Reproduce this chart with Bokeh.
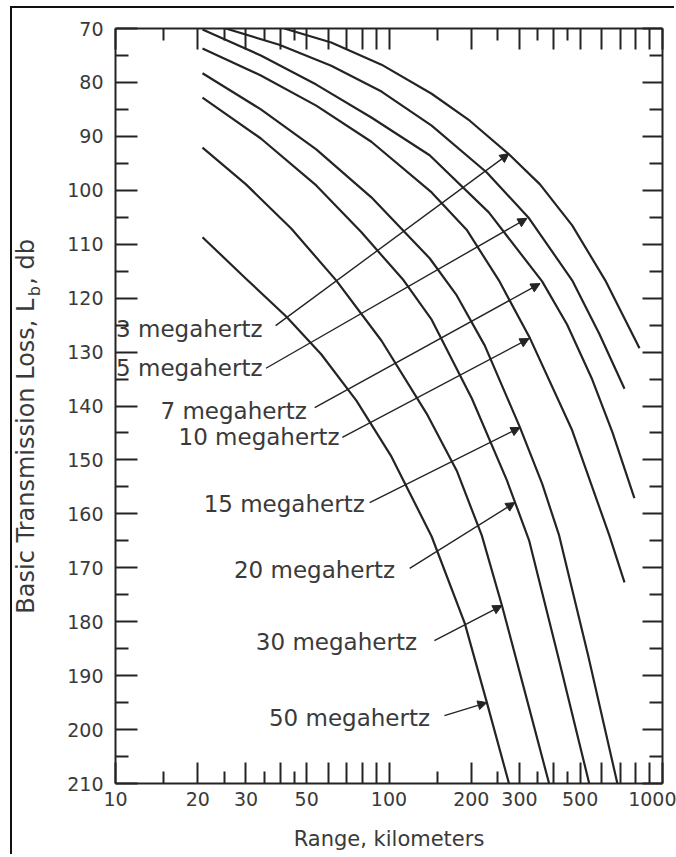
import math
from bokeh.plotting import figure
from bokeh.layouts import row
from bokeh.models import (FixedTicker, LogAxis, LinearAxis, Arrow, NormalHead,
                          ColumnDataSource)
from bokeh.core.properties import value
from bokeh.embed import file_html
from bokeh.resources import INLINE

# ---------------- data ----------------
# range in km, basic transmission loss in dB
c3_km = [41.4, 61.5, 93.9, 143.2, 197.4, 276.9, 356.5, 467.4, 617.6, 823.9]
c3_db = [70.0, 72.6, 76.7, 82.1, 87.1, 93.5, 98.9, 106.5, 116.7, 129.3]

c5_km = [25.3, 39.7, 61.5, 93.9, 143.2, 227.8, 325.2, 467.4, 587.2, 726.1]
c5_db = [70.0, 73.0, 76.9, 81.7, 88.0, 96.7, 105.2, 116.7, 126.6, 136.8]

c7_km = [20.8, 34.0, 54.2, 86.2, 140.8, 231.7, 363.0, 447.8, 553.5, 656.2, 789.2]
c7_db = [70.2, 75.0, 80.4, 86.5, 93.5, 104.1, 116.9, 124.9, 135.1, 144.9, 157.1]

c10_km = [20.8, 34.0, 54.2, 86.2, 143.2, 192.2, 252.2, 328.1, 467.4, 639.1, 726.1]
c10_db = [73.7, 78.7, 84.3, 91.0, 100.4, 107.3, 116.7, 127.5, 144.5, 164.0, 172.7]

c15_km = [20.8, 34.0, 54.2, 86.2, 140.8, 176.9, 224.0, 301.4, 363.0, 418.8, 535.0, 684.0]
c15_db = [78.3, 85.0, 92.4, 101.3, 112.6, 119.5, 128.8, 144.0, 154.4, 164.0, 186.3, 210.0]

c20_km = [20.8, 34.0, 54.2, 79.3, 113.1, 143.2, 200.9, 269.9, 325.2, 418.8, 539.6]
c20_db = [82.8, 90.4, 99.1, 107.8, 116.7, 124.0, 138.6, 153.8, 164.9, 187.2, 210.0]

c30_km = [20.8, 30.0, 43.9, 64.1, 93.9, 137.3, 176.9, 218.4, 258.8, 314.3, 384.9]
c30_db = [92.1, 98.9, 107.1, 116.7, 127.9, 141.4, 152.0, 164.0, 177.0, 193.1, 210.0]

c50_km = [20.8, 30.0, 42.1, 56.5, 76.0, 102.1, 143.2, 189.3, 228.0, 274.6]
c50_db = [108.7, 116.4, 123.4, 130.4, 139.0, 149.4, 164.2, 180.3, 195.0, 210.0]

curves_km = [c3_km, c5_km, c7_km, c10_km, c15_km, c20_km, c30_km, c50_km]
curves_db = [c3_db, c5_db, c7_db, c10_db, c15_db, c20_db, c30_db, c50_db]

labels = ["3 megahertz", "5 megahertz", "7 megahertz", "10 megahertz",
          "15 megahertz", "20 megahertz", "30 megahertz", "50 megahertz"]
label_km = [10.05, 10.05, 14.6, 17.0, 21.0, 27.1, 32.6, 36.4]
label_db = [125.8, 133.0, 141.0, 145.8, 158.1, 170.5, 183.7, 197.8]

arrow_km0 = [38.5, 35.5, 53.5, 67.5, 85.0, 119.0, 146.5, 159.5]
arrow_db0 = [125.1, 133.0, 140.3, 145.8, 157.9, 170.1, 183.5, 197.4]
arrow_km1 = [274.6, 319.6, 356.5, 325.2, 301.4, 288.8, 258.8, 228.0]
arrow_db1 = [93.2, 105.2, 117.3, 127.5, 144.0, 157.9, 177.0, 195.0]

x_long_ticks = [10, 20, 30, 40, 50, 60, 70, 80, 90, 100, 200, 300, 400, 500,
                600, 700, 800, 900, 1000]
x_short_ticks = [15, 25, 35, 45, 150, 250, 350, 450]
x_tick_labels = [10, 20, 30, 50, 100, 200, 300, 500, 1000]
y_long_ticks = list(range(70, 211, 10))
y_short_ticks = list(range(75, 210, 10))

y_title_parts = ["Basic Transmission Loss, L", "b", ", db"]

# ---------------- styling ----------------
FONT = "DejaVu Sans"
INK = "#242424"
TEXT = "#3a3a3a"
TOP, BOTTOM, FRAME_H = 20, 73, 755

# narrow companion figure that carries the rotated y-axis title
tf = figure(width=40, height=TOP + FRAME_H + BOTTOM, x_range=(0, 40), y_range=(210, 70),
            min_border_left=0, min_border_right=0, min_border_top=TOP,
            min_border_bottom=BOTTOM, x_axis_location=None, y_axis_location=None,
            output_backend="svg", toolbar_location=None,
            background_fill_color="white", border_fill_color="white")
tf.outline_line_color = None
tf.grid.visible = False
tsrc = ColumnDataSource(dict(x=[13, 21.5, 13], y=[178.5, 118.7, 117.5],
                             t=y_title_parts, size=["24px", "16px", "24px"],
                             align=["left", "center", "left"]))
tf.text(x="x", y="y", text="t", source=tsrc, angle=math.pi / 2,
        text_font=value(FONT), text_font_size="size", text_align="align",
        text_baseline="middle", text_color=TEXT)

p = figure(x_axis_type="log", x_range=(10, 1000), y_range=(210, 70),
           y_axis_location="right",
           frame_width=547, frame_height=FRAME_H,
           min_border_left=63, min_border_right=14, min_border_top=TOP,
           min_border_bottom=BOTTOM,
           output_backend="svg", toolbar_location=None,
           background_fill_color="white", border_fill_color="white")
p.outline_line_color = None
p.grid.visible = False


def style_axis(ax, tick_long, tick_short):
    ax.axis_line_width = 2
    ax.axis_line_color = INK
    ax.major_tick_line_width = 2
    ax.minor_tick_line_width = 2
    ax.major_tick_line_color = INK
    ax.minor_tick_line_color = INK
    ax.major_tick_in = tick_long
    ax.major_tick_out = 0
    ax.minor_tick_in = tick_short
    ax.minor_tick_out = 0
    ax.major_label_text_font = FONT
    ax.major_label_text_color = TEXT


bx = p.xaxis[0]
bx.ticker = FixedTicker(ticks=x_long_ticks, minor_ticks=x_short_ticks)
style_axis(bx, 21, 12)
bx.major_label_overrides = {t: (str(t) if t in x_tick_labels else "") for t in x_long_ticks}
bx.major_label_text_font_size = "19px"
bx.major_label_standoff = 8
bx.axis_label = "Range, kilometers"
bx.axis_label_text_font = FONT
bx.axis_label_text_font_size = "21px"
bx.axis_label_text_font_style = "normal"
bx.axis_label_text_color = TEXT
bx.axis_label_standoff = 18

# right-hand axis (the figure's own y axis): ticks only
ry = p.yaxis[0]
ry.ticker = FixedTicker(ticks=y_long_ticks, minor_ticks=y_short_ticks)
style_axis(ry, 20, 13)
ry.major_label_overrides = {t: "" for t in y_long_ticks}
ry.major_label_text_font_size = "1px"
ry.major_label_standoff = 0

# left-hand axis with the dB labels
ly = LinearAxis(ticker=FixedTicker(ticks=y_long_ticks, minor_ticks=y_short_ticks))
style_axis(ly, 22, 13)
ly.major_label_text_font_size = "19px"
ly.major_label_standoff = 12
p.add_layout(ly, "left")

tx = LogAxis(ticker=FixedTicker(ticks=x_long_ticks, minor_ticks=x_short_ticks))
style_axis(tx, 21, 12)
tx.major_label_overrides = {t: "" for t in x_long_ticks}
tx.major_label_text_font_size = "1px"
tx.major_label_standoff = 0
p.add_layout(tx, "above")

# curves
for km, db in zip(curves_km, curves_db):
    p.line(km, db, line_width=2.2, line_color=INK, line_join="round")

# frequency labels
lsrc = ColumnDataSource(dict(x=label_km, y=label_db, t=labels))
p.text(x="x", y="y", text="t", source=lsrc, text_font=value(FONT),
       text_font_size=value("23px"), text_align="left", text_baseline="middle",
       text_color=TEXT)

# arrows
asrc = ColumnDataSource(dict(x0=arrow_km0, y0=arrow_db0, x1=arrow_km1, y1=arrow_db1))
p.add_layout(Arrow(end=NormalHead(size=9, fill_color=INK, line_color=INK, line_width=1),
                   x_start="x0", y_start="y0", x_end="x1", y_end="y1", source=asrc,
                   line_width=1.4, line_color=INK))

lay = row(tf, p)
lay.styles = {"margin-top": "8px", "margin-left": "12px",
              "box-shadow": "-2px -2px 0 0 #111111"}

open("out.html", "w").write(file_html(lay, INLINE))
